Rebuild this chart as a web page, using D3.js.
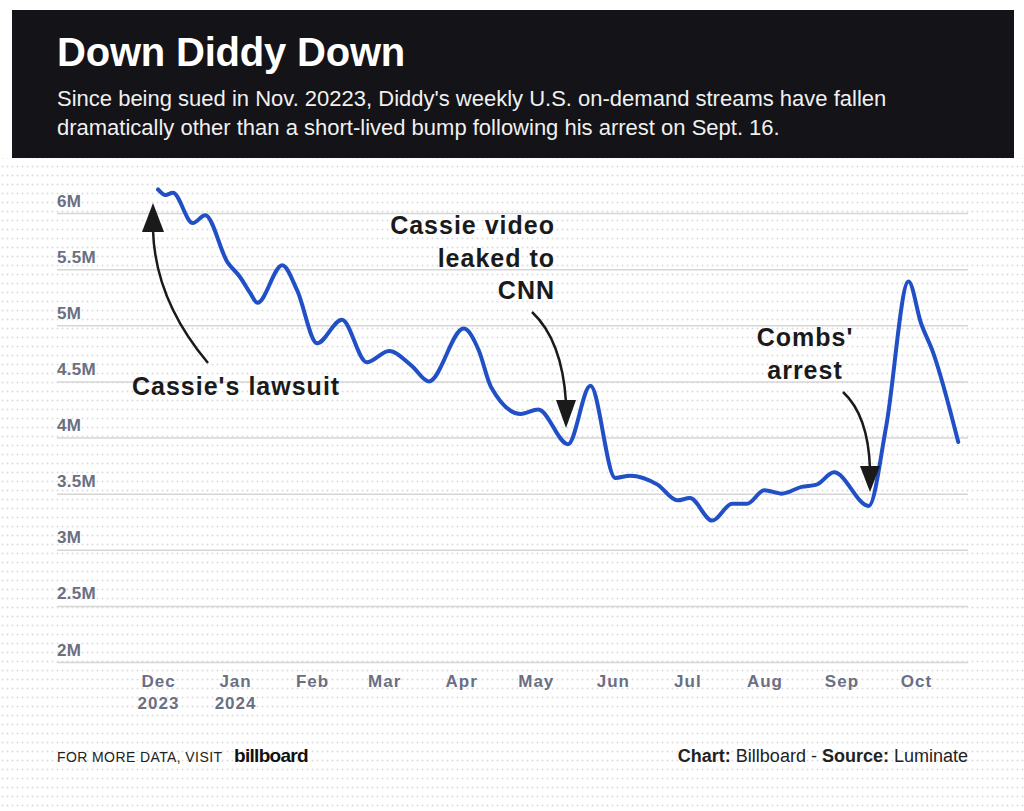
<!DOCTYPE html>
<html>
<head>
<meta charset="utf-8">
<script src="https://cdn.jsdelivr.net/npm/d3@7"></script>
<style>
  html, body { margin: 0; padding: 0; background: #fff; }
  svg { display: block; font-family: "Liberation Sans", Arial, sans-serif; }
</style>
</head>
<body>
<svg id="chart" width="1024" height="811"></svg>
<script>
// ---- data ----
const weekDates = ["2023-12-01","2023-12-04","2023-12-07","2023-12-15","2023-12-20","2023-12-29",
  "2024-01-03","2024-01-07","2024-01-10","2024-01-20","2024-01-26","2024-02-03","2024-02-13",
  "2024-02-23","2024-03-03","2024-03-12","2024-03-19","2024-04-02","2024-04-08","2024-04-13",
  "2024-04-25","2024-05-02","2024-05-14","2024-05-23","2024-06-02","2024-06-08","2024-06-19",
  "2024-06-27","2024-07-02","2024-07-11","2024-07-19","2024-07-25","2024-08-01","2024-08-08",
  "2024-08-16","2024-08-22","2024-08-29","2024-09-12","2024-09-19","2024-09-28","2024-10-03",
  "2024-10-08","2024-10-18"];
const streamsM = [6.21,6.16,6.18,5.91,5.98,5.56,
  5.43,5.29,5.20,5.535,5.31,4.84,5.05,
  4.67,4.77,4.64,4.50,4.97,4.78,4.45,
  4.21,4.25,3.94,4.46,3.64,3.66,3.58,
  3.44,3.46,3.26,3.41,3.41,3.53,3.50,
  3.56,3.58,3.69,3.39,4.10,5.39,5.02,
  4.75,3.96];
const yTicks = [2,2.5,3,3.5,4,4.5,5,5.5,6];
const yTickLabels = ["2M","2.5M","3M","3.5M","4M","4.5M","5M","5.5M","6M"];
const monthTicks = ["2023-12-01","2024-01-01","2024-02-01","2024-03-01","2024-04-01","2024-05-01",
  "2024-06-01","2024-07-01","2024-08-01","2024-09-01","2024-10-01"];
const monthLabels = ["Dec","Jan","Feb","Mar","Apr","May","Jun","Jul","Aug","Sep","Oct"];
const yearLabels = ["2023","2024","","","","","","","","",""];
const annotations = [
  {lines:["Cassie's lawsuit"], x:132, y:395, anchor:"start"},
  {lines:["Cassie video","leaked to","CNN"], x:555, y:234, anchor:"end"},
  {lines:["Combs'","arrest"], x:805, y:346, anchor:"middle"}
];

// ---- setup ----
const parse = d3.timeParse("%Y-%m-%d");
const svg = d3.select("#chart");
const W = 1024, H = 811;

const defs = svg.append("defs");
const pat = defs.append("pattern").attr("id","dots").attr("patternUnits","userSpaceOnUse")
  .attr("width",5).attr("height",9);
pat.append("circle").attr("cx",2.5).attr("cy",4.5).attr("r",0.95).attr("fill","#dadada");

svg.append("rect").attr("x",0).attr("y",0).attr("width",W).attr("height",H).attr("fill","#fff");
svg.append("rect").attr("x",0).attr("y",158).attr("width",W).attr("height",H-158).attr("fill","url(#dots)");

// header
svg.append("rect").attr("x",12).attr("y",10).attr("width",1002).attr("height",148).attr("fill","#131318");
svg.append("text").attr("x",57).attr("y",66).attr("fill","#fff")
  .attr("font-size",40).attr("font-weight",700).attr("letter-spacing",-0.2).text("Down Diddy Down");
const sub = ["Since being sued in Nov. 20223, Diddy's weekly U.S. on-demand streams have fallen",
  "dramatically other than a short-lived bump following his arrest on Sept. 16."];
svg.append("g").selectAll("text").data(sub).join("text")
  .attr("x",57).attr("y",(d,i)=>106+i*29).attr("fill","#f0f0f0")
  .attr("font-size",22).text(d=>d);

// scales
const x = d3.scaleTime().domain([parse("2023-12-01"), parse("2024-10-01")]).range([158, 916]);
const y = d3.scaleLinear().domain([2, 6]).range([662, 213]);
const gridLeft = 57, gridRight = 968;

// y axis with gridlines
const yAxis = d3.axisRight(y).tickValues(yTicks).tickSize(gridRight-gridLeft)
  .tickFormat((d,i)=>yTickLabels[i]);
const gy = svg.append("g").attr("transform",`translate(${gridLeft},0)`).call(yAxis);
gy.select(".domain").remove();
gy.selectAll(".tick line").attr("stroke","#d6d6d6").attr("stroke-width",1.5);
gy.selectAll(".tick text").attr("x",0).attr("dy",null).attr("y",-7)
  .attr("text-anchor","start").attr("fill","#6b6f82")
  .attr("font-size",17).attr("font-weight",700).attr("letter-spacing",0.3)
  .attr("font-family","'Liberation Sans', Arial, sans-serif");

// x axis
const xAxis = d3.axisBottom(x).tickValues(monthTicks.map(parse)).tickSize(0).tickFormat((d,i)=>monthLabels[i]);
const gx = svg.append("g").attr("transform","translate(0,662)").call(xAxis);
gx.select(".domain").remove();
gx.selectAll(".tick text").attr("y",25).attr("dy",null)
  .attr("fill","#6b6f82").attr("font-size",17).attr("font-weight",700).attr("letter-spacing",1)
  .attr("font-family","'Liberation Sans', Arial, sans-serif");
gx.selectAll(".tick").each(function(d,i){
  if (yearLabels[i]) {
    d3.select(this).append("text").attr("y",47).attr("text-anchor","middle")
      .attr("fill","#6b6f82").attr("font-size",17).attr("font-weight",700).attr("letter-spacing",1)
      .attr("font-family","'Liberation Sans', Arial, sans-serif")
      .text(yearLabels[i]);
  }
});

// line
const series = weekDates.map((d,i)=>({date: parse(d), v: streamsM[i]}));
const line = d3.line().x(d=>x(d.date)).y(d=>y(d.v)).curve(d3.curveMonotoneX);
svg.append("path").datum(series).attr("d",line).attr("fill","none")
  .attr("stroke","#2150c6").attr("stroke-width",4).attr("stroke-linejoin","round").attr("stroke-linecap","round");

// arrows
const arrows = [
  {path:"M208,363 Q155,300 153,230", head:[[153,203],[142,232],[164,232]]},
  {path:"M532,312 Q562,340 566,402", head:[[566,428],[556,400],[576,400]]},
  {path:"M843,392 Q868,415 870,468", head:[[870,492],[860,466],[880,466]]}
];
const ga = svg.append("g");
arrows.forEach(a=>{
  ga.append("path").attr("d",a.path).attr("fill","none").attr("stroke","#1a1a1a").attr("stroke-width",2.5);
  ga.append("path").attr("d","M"+a.head.map(p=>p.join(",")).join("L")+"Z").attr("fill","#1a1a1a");
});

// annotation text
annotations.forEach(a=>{
  const t = svg.append("text").attr("text-anchor",a.anchor).attr("fill","#1a1a1a")
    .attr("font-size",25).attr("font-weight",700).attr("letter-spacing",1);
  a.lines.forEach((l,i)=>t.append("tspan").attr("x",a.x).attr("y",a.y+i*32.5).text(l));
});

// footer
svg.append("text").attr("x",57).attr("y",762).attr("font-size",14).attr("letter-spacing",0.4)
  .attr("fill","#222").text("FOR MORE DATA, VISIT");
svg.append("text").attr("x",234).attr("y",762).attr("font-size",19).attr("font-weight",900)
  .attr("letter-spacing",-0.7).attr("fill","#111").text("billboard");
const src = svg.append("text").attr("x",968).attr("y",762).attr("text-anchor","end")
  .attr("font-size",18).attr("fill","#222");
src.append("tspan").attr("font-weight",700).text("Chart:");
src.append("tspan").text(" Billboard - ");
src.append("tspan").attr("font-weight",700).text("Source:");
src.append("tspan").text(" Luminate");
</script>
</body>
</html>
